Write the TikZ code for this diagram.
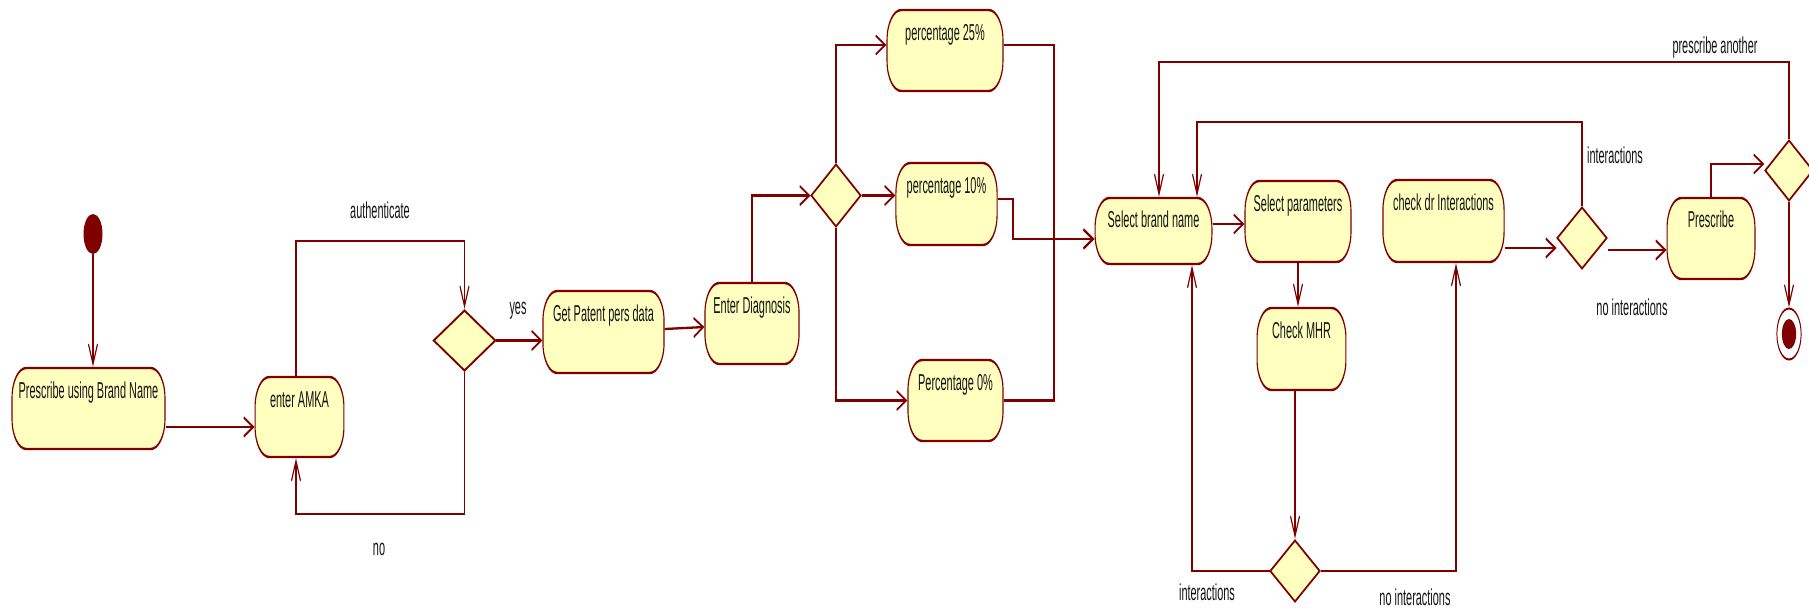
\documentclass[tikz,border=0pt]{standalone}
\usepackage{fontspec}
\setmainfont{Liberation Sans}
\usetikzlibrary{arrows.meta,shapes.geometric}
\definecolor{umlred}{RGB}{128,0,0}
\definecolor{umlfill}{RGB}{255,255,192}
\definecolor{umltext}{RGB}{20,20,20}

\begin{document}
\begin{tikzpicture}
\useasboundingbox[fill=white] (0pt,0pt) rectangle (1809pt,-611pt);
% the whole drawing is squeezed horizontally; coordinates below are in output pixels
\begin{scope}[transform canvas={xscale=0.475}, x=2.10526pt, y=-1pt,
  act/.style={draw=umlred, fill=umlfill, line width=2.4pt, rectangle,
              rounded corners=30pt, inner sep=0pt},
  dec/.style={draw=umlred, fill=umlfill, line width=2.4pt, diamond, inner sep=0pt},
  lbl/.style={font=\fontsize{23}{27}\selectfont, text=umltext, inner sep=0pt, anchor=base},
  flow/.style={draw=umlred, line width=2.3pt},
  arr/.style={flow, -{Straight Barb[length=20pt,width=19pt]}},
]

% ---- activity states
\node[act, minimum width=322pt, minimum height=81pt] (pbn)   at (88.5,408.5) {};
\node[act, minimum width=187pt, minimum height=80pt] (amka)  at (299.5,417) {};
\node[act, minimum width=255pt, minimum height=82pt] (gpd)   at (603.5,332) {};
\node[act, minimum width=198pt, minimum height=81pt] (ed)    at (752,323.5) {};
\node[act, minimum width=244pt, minimum height=81pt] (p25)   at (945,50.5) {};
\node[act, minimum width=213pt, minimum height=82pt] (p10)   at (946.5,204) {};
\node[act, minimum width=200pt, minimum height=81pt] (p0)    at (955.5,400.5) {};
\node[act, minimum width=246pt, minimum height=66pt] (sbn)   at (1153.5,231) {};
\node[act, minimum width=223pt, minimum height=81pt] (spar)  at (1298,221.5) {};
\node[act, minimum width=187pt, minimum height=82pt] (cmhr)  at (1301.5,349) {};
\node[act, minimum width=255pt, minimum height=82pt] (cdi)   at (1443.5,221) {};
\node[act, minimum width=185pt, minimum height=81pt] (presc) at (1711,238.5) {};

\node[lbl] (pbnT)   at ([yshift=-32pt]pbn.north)   {Prescribe using Brand Name};
\node[lbl] (amkaT)  at ([yshift=-32pt]amka.north)  {enter AMKA};
\node[lbl] (gpdT)   at ([yshift=-32pt]gpd.north)   {Get Patent pers data};
\node[lbl] (edT)    at ([yshift=-32pt]ed.north)    {Enter Diagnosis};
\node[lbl] (p25T)   at ([yshift=-32pt]p25.north)   {percentage 25\%};
\node[lbl] (p10T)   at ([yshift=-32pt]p10.north)   {percentage 10\%};
\node[lbl] (p0T)    at ([yshift=-32pt]p0.north)    {Percentage 0\%};
\node[lbl] (sbnT)   at ([yshift=-31pt]sbn.north)   {Select brand name};
\node[lbl] (sparT)  at ([yshift=-32pt]spar.north)  {Select parameters};
\node[lbl] (cmhrT)  at ([yshift=-32pt]cmhr.north)  {Check MHR};
\node[lbl] (cdiT)   at ([yshift=-32pt]cdi.north)   {check dr Interactions};
\node[lbl] (prescT) at ([yshift=-31pt]presc.north) {Prescribe};

% ---- decisions
\node[dec, minimum width=130.5pt, minimum height=61pt] (d1)   at (464.5,340.5) {};
\node[dec, minimum width=105pt,   minimum height=63pt] (db)   at (836,195.5) {};
\node[dec, minimum width=105pt,   minimum height=62pt] (dbot) at (1295,571) {};
\node[dec, minimum width=105pt,   minimum height=62pt] (d2)   at (1582,238) {};
\node[dec, minimum width=101pt,   minimum height=61pt] (d3)   at (1789,170.5) {};

% ---- initial and final nodes
\node[circle, fill=umlred, minimum size=40pt, inner sep=0pt] (start) at (93,234) {};
\node[circle, draw=umlred, fill=white, line width=2pt, minimum size=51pt, inner sep=0pt] (fin) at (1789,334) {};
\node[circle, fill=umlred, minimum size=30pt, inner sep=0pt] (finDot) at (fin) {};

% ---- routing levels
\coordinate (yA)  at (0,427);
\coordinate (tl)  at (296,241);
\coordinate (bl)  at (296,514);
\coordinate (r25) at (0,45);
\coordinate (mx)  at (1054,0);
\coordinate (k1)  at (1013,199);
\coordinate (yB)  at (0,239);
\coordinate (yC)  at (0,224);
\coordinate (xL)  at (1192,0);
\coordinate (xR)  at (1456,0);
\coordinate (yD)  at (0,248);
\coordinate (yE)  at (0,250);
\coordinate (lpI) at (1197,122);
\coordinate (lpO) at (1159,62);
\coordinate (yF)  at (0,164);

% ---- flows
\draw[arr] (start.south) -- (start.south |- pbn.north);
\draw[arr] (pbn.east |- yA) -- (amka.west |- yA);
\draw[arr] (tl |- amka.north) -- (tl) -| (d1.north);
\draw[arr] (d1.south) |- (bl) -- (bl |- amka.south);
\draw[arr] (d1.east) -- (d1.east -| gpd.west);
\draw[arr] ([yshift=3pt]gpd.east) -- ([yshift=-3.5pt]ed.west);
\draw[arr] (ed.north) |- (db.west);
\draw[arr] (db.north) |- (p25.west |- r25);
\draw[arr] (db.east) -- (db.east -| p10.west);
\draw[arr] (db.south) |- (p0.west);
\draw[flow] (p25.east |- r25) -| (mx |- p0.east) -- (p0.east);
\draw[arr, line width=2.9pt] (p10.east |- k1) -- (k1) |- (sbn.west |- yB);
\draw[arr] (sbn.east |- yC) -- (spar.west |- yC);
\draw[arr] (spar.south) -- (spar.south |- cmhr.north);
\draw[arr] (dbot.north |- cmhr.south) -- (dbot.north);
\draw[arr] (dbot.west) -| (xL |- sbn.south);
\draw[arr] (dbot.east) -| (xR |- cdi.south);
\draw[arr] (cdi.east |- yD) -- (d2.west |- yD);
\draw[arr] (d2.east |- yE) -- (presc.west |- yE);
\draw[arr] (d2.north) |- (lpI) -- (lpI |- sbn.north);
\draw[arr] (d3.north) |- (lpO) -- (lpO |- sbn.north);
\draw[arr] (presc.north) |- (d3.west |- yF);
\draw[arr] (d3.south) -- (fin.north);

% ---- guard labels
\node[lbl] (tAuth)    at (380,218)  {authenticate};
\node[lbl] (tNo)      at (379,555)  {no};
\node[lbl] (tYes)     at (518,314)  {yes};
\node[lbl] (tInt1)    at (1615,163) {interactions};
\node[lbl] (tNoInt1)  at (1632,315) {no interactions};
\node[lbl] (tAnother) at (1715,53)  {prescribe another};
\node[lbl] (tInt2)    at (1207,600) {interactions};
\node[lbl] (tNoInt2)  at (1415,605) {no interactions};
\end{scope}
\end{tikzpicture}
\end{document}
